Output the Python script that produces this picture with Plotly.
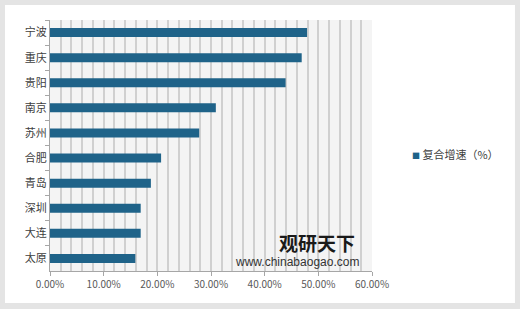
import plotly.graph_objects as go

cities = ["宁波", "重庆", "贵阳", "南京", "苏州", "合肥", "青岛", "深圳", "大连", "太原"]
growth = [0.479, 0.469, 0.439, 0.309, 0.278, 0.207, 0.188, 0.169, 0.169, 0.159]
series_name = "复合增速（%）"
x_ticks = [0, 0.1, 0.2, 0.3, 0.4, 0.5, 0.6]
x_tick_labels = ["0.00%", "10.00%", "20.00%", "30.00%", "40.00%", "50.00%", "60.00%"]

font_cn = "Microsoft YaHei, Noto Sans CJK SC, sans-serif"
bar_color = "#1f6389"

fig = go.Figure()
fig.add_trace(go.Bar(
    y=cities, x=growth, orientation="h", name=series_name,
    marker=dict(color=bar_color, line=dict(width=0)),
    showlegend=False,
))

fig.update_layout(
    width=520, height=309,
    margin=dict(l=50, r=148, t=20, b=38, autoexpand=False),
    paper_bgcolor="#e4e4e4",
    plot_bgcolor="#f4f4f4",
    bargap=0.64,
    font=dict(family=font_cn, size=11, color="#404040"),
    showlegend=False,
    xaxis=dict(
        range=[0, 0.6], tickvals=x_ticks, ticktext=x_tick_labels,
        showgrid=True, gridcolor="#d0d0d0", gridwidth=1.5,
        minor=dict(dtick=0.02, tick0=0, showgrid=True, gridcolor="#d0d0d0", gridwidth=1.5),
        showline=True, linecolor="#a6a6a6", linewidth=1,
        ticks="outside", ticklen=4, tickcolor="#a6a6a6",
        tickfont=dict(size=10, color="#595959"),
        zeroline=False, fixedrange=True,
    ),
    yaxis=dict(
        categoryorder="array", categoryarray=cities, autorange="reversed",
        showline=True, linecolor="#a6a6a6", linewidth=1,
        ticks="outside", ticklen=4, tickcolor="#a6a6a6", tickson="boundaries",
        tickfont=dict(size=11, color="#404040"),
        showgrid=False, fixedrange=True,
    ),
    shapes=[
        dict(type="rect", xref="paper", yref="paper",
             x0=-0.1398, x1=1.444, y0=-0.1275, y1=1.06,
             fillcolor="white", line=dict(width=0), layer="below"),
        dict(type="rect", xref="paper", yref="paper",
             x0=0, x1=1, y0=0, y1=1,
             fillcolor="#f4f4f4", line=dict(width=0), layer="below"),
    ],
    annotations=[
        dict(xref="paper", yref="paper", x=(410 - 50) / 322, y=(271 - 154) / 251,
             text=f"<span style='font-size:8px;color:{bar_color}'>■</span> {series_name}",
             showarrow=False, font=dict(size=11, color="#404040"),
             xanchor="left", yanchor="middle"),
        dict(xref="paper", yref="paper", x=0.83, y=0.1155, text="<b>观研天下</b>",
             showarrow=False, font=dict(size=19, color="#1a1a1a"), xanchor="center", yanchor="middle"),
        dict(xref="paper", yref="paper", x=0.767, y=0.036, text="www.chinabaogao.com",
             showarrow=False, font=dict(size=12, color="#333333", family="Arial, Liberation Sans"),
             xanchor="center", yanchor="middle"),
    ],
)

fig.write_html("out.html")
